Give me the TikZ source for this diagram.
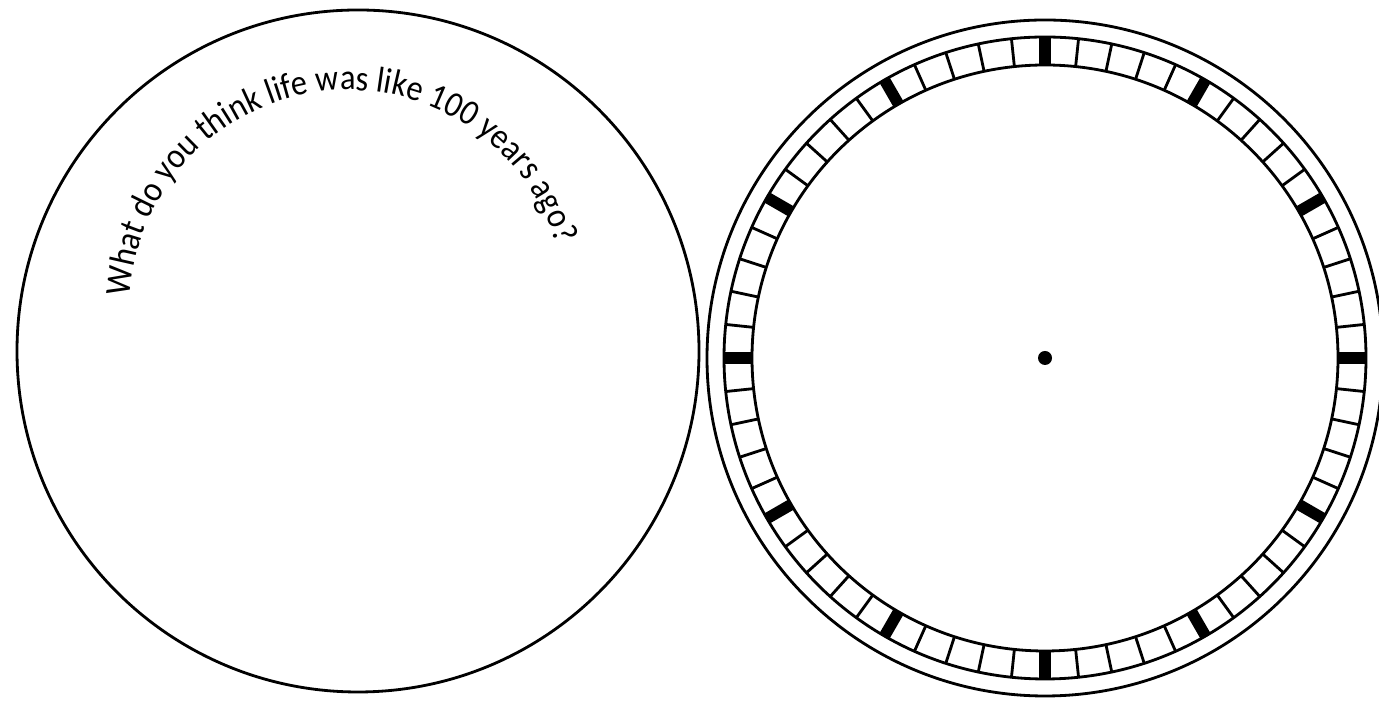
\documentclass[tikz,border=0pt]{standalone}
\usepackage{fontspec}
\setmainfont{Carlito}
\newfontfamily\qfont{Carlito}[FakeStretch=0.9]
\usetikzlibrary{decorations.text}

\begin{document}
\begin{tikzpicture}[x=0.02cm, y=0.02cm]
		\useasboundingbox (0,0) rectangle (1379,705);
		% --- LEFT: question disc ---
		\coordinate (qc) at (358,354);
		\coordinate (tc) at (348,397);
		\draw[line width=1.6pt] (qc) circle (341);
		\path[decorate, decoration={text along path, text align=left,
			text={|\qfont\fontsize{20.5}{22}\selectfont|What do you think life was like 100 years ago?}}]
			(tc) ++(177:218) arc[start angle=177, end angle=0, radius=218];

		% --- RIGHT: clock dial ---
		\coordinate (dc) at (1045,347);
		\draw[line width=1.6pt] (dc) circle (338);
		\draw[line width=1.6pt] (dc) circle (321);
		\draw[line width=1.6pt] (dc) circle (293);
		\foreach \a in {0,6,...,354}
			\draw[line width=1.6pt] (dc) ++(\a:293) -- ++(\a:28);
		\foreach \a in {0,30,...,330}
			\draw[line width=6.5pt] (dc) ++(\a:293) -- ++(\a:28);
		\fill (dc) circle (7);
	\end{tikzpicture}
\end{document}
